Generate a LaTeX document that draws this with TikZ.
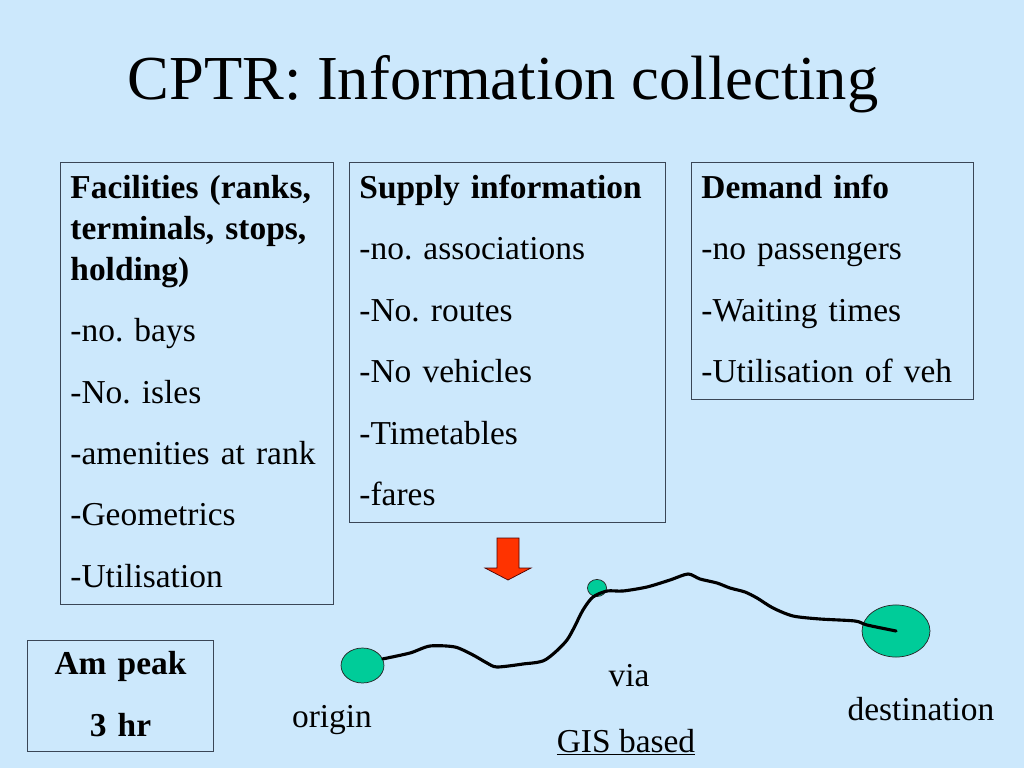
\documentclass[tikz,border=0pt]{standalone}
\usepackage{fontspec}
\setmainfont{Liberation Serif}
\usetikzlibrary{
positioning,
shapes.geometric,
}
\definecolor{slide}{RGB}{204,232,252}
\definecolor{stopgreen}{RGB}{0,204,153}
\definecolor{flowred}{RGB}{255,51,0}
\definecolor{frame}{RGB}{58,70,86}
\frenchspacing
\tikzset{
every node/.style={align=center, font=\fontsize{23.5}{28.8}\selectfont},
infobox/.style={rectangle, draw=frame, line width=0.7pt, anchor=north west, align=left,
  inner xsep=7pt, inner ysep=5pt, execute at begin node=\strut,
  execute at end node=\rule[-7pt]{0pt}{1pt}},
stop/.style={ellipse, draw=black!85, fill=stopgreen, inner sep=0pt, line width=0.5pt},
label/.style={anchor=base},
route/.style={line width=2.2pt, line cap=round, line join=round},
flowarrow/.style={fill=flowred, draw=black!70!red, line width=0.5pt},
}

\begin{document}
\begin{tikzpicture}[x=0.703125pt, y=-0.703125pt]
    \fill[slide] (0,0) rectangle (1024,768);
    \useasboundingbox (0,0) rectangle (1024,768);

    \node [anchor=base, font=\fontsize{44}{52}\selectfont] (title) at (503,100) {CPTR: Information collecting};

    % the three info boxes
    \node [infobox, text width=178pt] (facil) at (60,162) {\textbf{Facilities (ranks,}\\
        \textbf{terminals, stops,}\\ \textbf{holding)}\\[14.4pt]
        -no. bays\\[14.4pt] -No. isles\\[14.4pt] -amenities at rank\\[14.4pt]
        -Geometrics\\[14.4pt] -Utilisation};
    \node [infobox, text width=208pt] (supply) at (349,162) {\textbf{Supply information}\\[14.4pt]
        -no. associations\\[14.4pt] -No. routes\\[14.4pt] -No vehicles\\[14.4pt]
        -Timetables\\[14.4pt] -fares};
    \node [infobox, text width=184pt] (demand) at (691,162) {\textbf{Demand info}\\[14.4pt]
        -no passengers\\[14.4pt] -Waiting times\\[14.4pt] -Utilisation of veh};

    \node [infobox, align=center, text width=116.8pt, inner ysep=4pt] (peak) at (27,640)
        {\textbf{Am peak}\\[14.4pt] \textbf{3 hr}};

    \filldraw [flowarrow] (497,538) -- (519,538) -- (519,568) -- (531,568) -- (508,580)
        -- (485,568) -- (497,568) -- cycle;

    % stops and route
    \node [stop, minimum width=30.2pt, minimum height=24.6pt] (orig) at (362.5,665.5) {};
    \node [stop, minimum width=13.4pt, minimum height=12pt] (via) at (597,588) {};
    \node [stop, minimum width=47.8pt, minimum height=36.6pt] (dest) at (896,631) {};

    \draw [route] plot [smooth, tension=0.45] coordinates {(orig.18) (410,653) (430,646) (455,647)
        (473,655) (487,663) (497,667) (523,664) (545,660) (567,640) (583,610) (593,597)
        (607,591) (623,591) (647,587) (670,580) (688,574) (700,579) (717,583) (730,588)
        (745,592) (757,598) (773,608) (793,616) (820,619) (855,621) (867,625) (dest.center)};

    \node [label] (origlbl) at (332,727) {origin};
    \node [label] (vialbl) at (629,686) {via};
    \node [label] (gis) at (626,752) {\underline{GIS based}};
    \node [label] (destlbl) at (921,720) {destination};
\end{tikzpicture}
\end{document}
